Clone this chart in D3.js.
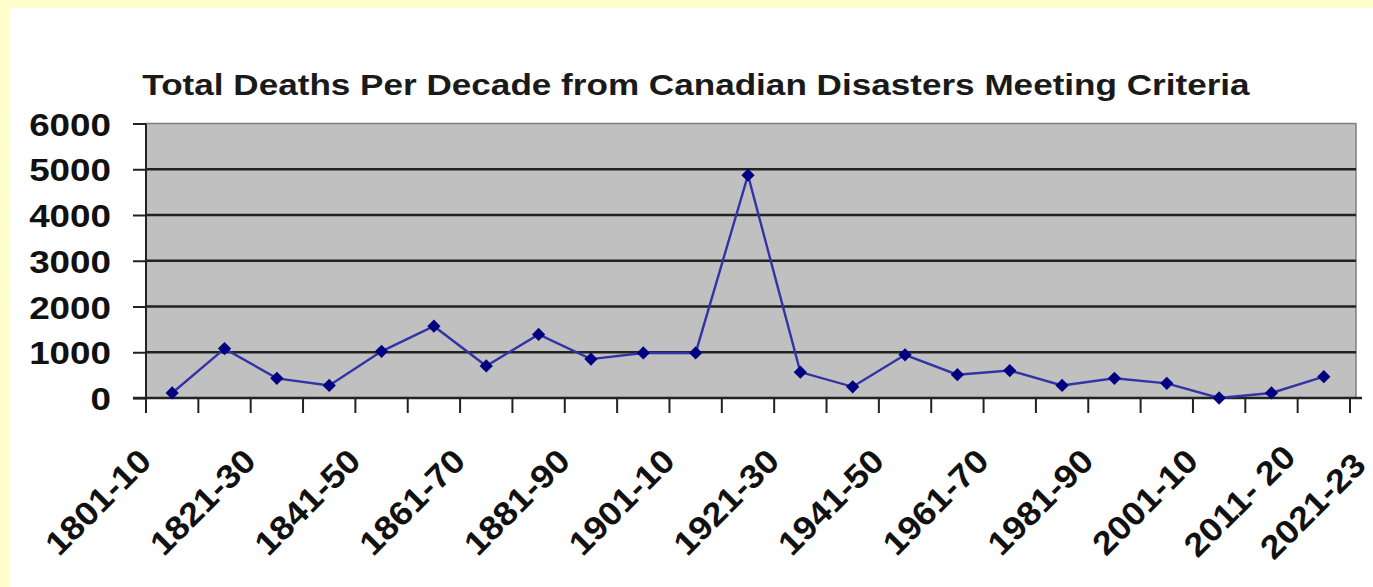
<!DOCTYPE html>
<html>
<head>
<meta charset="utf-8">
<script src="https://cdn.jsdelivr.net/npm/d3@7.9.0/dist/d3.min.js"></script>
<style>
    html, body { margin: 0; padding: 0; background: #ffffcc; overflow: hidden; }
    svg { display: block; font-family: "Liberation Sans", Arial, sans-serif; }
</style>
</head>
<body>
<div id="chart"></div>
<script>
"use strict";

const TITLE = "Total Deaths Per Decade from Canadian Disasters Meeting Criteria";

const decades = [
    "1801-10", "1811-20", "1821-30", "1831-40", "1841-50", "1851-60",
    "1861-70", "1871-80", "1881-90", "1891-1900", "1901-10", "1911-20",
    "1921-30", "1931-40", "1941-50", "1951-60", "1961-70", "1971-80",
    "1981-90", "1991-2000", "2001-10", "2011-20", "2021-23",
];

const deaths = [
    110, 1080, 430, 275, 1020, 1570, 700, 1390, 850, 985, 985, 4870,
    565, 245, 945, 510, 600, 275, 430, 320, 0, 110, 465,
];

const y_ticks = [0, 1000, 2000, 3000, 4000, 5000, 6000];

// decades that carry a label, and the text shown for each
const label_decades = [
    "1801-10", "1821-30", "1841-50", "1861-70", "1881-90", "1901-10",
    "1921-30", "1941-50", "1961-70", "1981-90", "2001-10", "2011-20", "2021-23",
];
const label_texts = [
    "1801-10", "1821-30", "1841-50", "1861-70", "1881-90", "1901-10",
    "1921-30", "1941-50", "1961-70", "1981-90", "2001-10", "2011- 20", "2021-23",
];

const W = 1373;
const H = 587;
const plot = { left: 146, right: 1356, top: 123.5, bottom: 398 };

// the original picture is a little wider than plain Arial
function widen(sel, k) {
    sel.attr("lengthAdjust", "spacingAndGlyphs")
        .attr("textLength", function () { return this.getComputedTextLength() * k; });
}

const svg = d3.select("#chart").append("svg")
    .attr("width", W)
    .attr("height", H);

// yellow page frame, white card
svg.append("rect").attr("width", W).attr("height", H).attr("fill", "#ffffcc");
svg.append("rect").attr("x", 10).attr("y", 8)
    .attr("width", W - 10).attr("height", H - 8).attr("fill", "#ffffff");

const x = d3.scaleBand()
    .domain(decades)
    .range([plot.left, 1350]);

const y = d3.scaleLinear()
    .domain([0, 6000])
    .range([plot.bottom, plot.top]);

// plot area
svg.append("rect")
    .attr("x", plot.left)
    .attr("y", y(6000))
    .attr("width", plot.right - plot.left)
    .attr("height", y(0) - y(6000))
    .attr("fill", "#c0c0c0")
    .attr("stroke", "#808080")
    .attr("stroke-width", 1.5);

// gridlines
svg.append("g")
    .selectAll("line")
    .data(y_ticks.filter((d) => d > 0 && d < 6000))
    .join("line")
    .attr("x1", plot.left)
    .attr("x2", plot.right)
    .attr("y1", (d) => y(d))
    .attr("y2", (d) => y(d))
    .attr("stroke", "#222222")
    .attr("stroke-width", 2.5);

// Y axis
const y_axis = svg.append("g")
    .attr("transform", `translate(${plot.left},0)`)
    .call(d3.axisLeft(y)
        .tickValues(y_ticks)
        .tickFormat(d3.format("d"))
        .tickSize(13)
        .tickPadding(22)
        .tickSizeOuter(0));
y_axis.select(".domain").remove();
y_axis.selectAll(".tick line").attr("stroke", "#222222").attr("stroke-width", 2);
y_axis.selectAll(".tick text")
    .attr("fill", "#111111")
    .style("font-size", "32px")
    .style("font-weight", "bold")
    .attr("dy", "0.36em")
    .call(widen, 1.15);

// axis lines
svg.append("line")
    .attr("x1", plot.left).attr("x2", plot.left)
    .attr("y1", y(6000)).attr("y2", plot.bottom + 15)
    .attr("stroke", "#222222").attr("stroke-width", 2);
svg.append("line")
    .attr("x1", plot.left - 13).attr("x2", 1362)
    .attr("y1", plot.bottom).attr("y2", plot.bottom)
    .attr("stroke", "#222222").attr("stroke-width", 2.5);

// X ticks at category boundaries
const boundaries = decades.map((d) => x(d)).concat([x.range()[1]]);
svg.append("g")
    .selectAll("line")
    .data(boundaries.slice(1))
    .join("line")
    .attr("x1", (d) => d).attr("x2", (d) => d)
    .attr("y1", plot.bottom).attr("y2", plot.bottom + 15)
    .attr("stroke", "#222222")
    .attr("stroke-width", 2);

// X labels, rotated
const bw = x.bandwidth();
function label_shift(i) {
    // the two last labels sit further right in the original
    if (label_decades[i] === "2011-20") return [26, -4];
    if (label_decades[i] === "2021-23") return [44, 4];
    return [-19, 0];
}
svg.append("g")
    .selectAll("text")
    .data(label_decades)
    .join("text")
    .attr("transform", (d, i) => {
        const s = label_shift(i);
        return `translate(${x(d) + bw / 2 + s[0]},${463 + s[1]}) rotate(-45)`;
    })
    .attr("text-anchor", "end")
    .attr("fill", "#111111")
    .style("font-size", "33px")
    .style("font-weight", "bold")
    .text((d, i) => label_texts[i])
    .call(widen, 1.1);

// line + diamond markers
const points = decades.map((d, i) => ({ decade: d, value: deaths[i] }));

svg.append("path")
    .datum(points)
    .attr("fill", "none")
    .attr("stroke", "#3333a6")
    .attr("stroke-width", 2.4)
    .attr("d", d3.line()
        .x((d) => x(d.decade) + bw / 2)
        .y((d) => y(d.value)));

svg.append("g")
    .selectAll("path")
    .data(points)
    .join("path")
    .attr("transform", (d) => `translate(${x(d.decade) + bw / 2},${y(d.value)}) rotate(45)`)
    .attr("d", d3.symbol(d3.symbolSquare, 88))
    .attr("fill", "#000080");

// title
svg.append("text")
    .attr("x", 696)
    .attr("y", 95)
    .attr("text-anchor", "middle")
    .attr("fill", "#1a1a1a")
    .style("font-size", "30px")
    .style("font-weight", "bold")
    .text(TITLE)
    .call(widen, 1.17);
</script>
</body>
</html>
